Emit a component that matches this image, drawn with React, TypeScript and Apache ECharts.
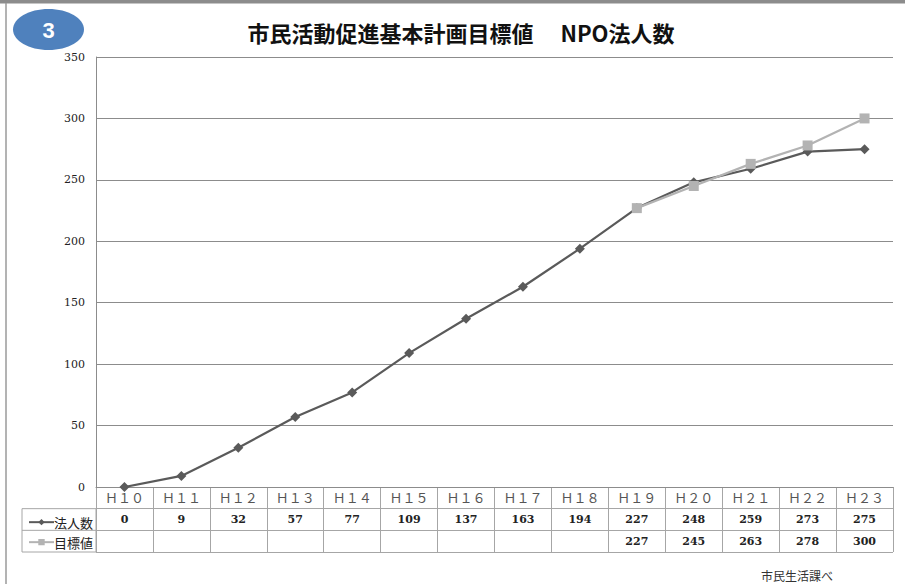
import React, { useEffect, useRef } from "react";
import * as echarts from "echarts";

const categories = ["Ｈ１０", "Ｈ１１", "Ｈ１２", "Ｈ１３", "Ｈ１４", "Ｈ１５", "Ｈ１６", "Ｈ１７", "Ｈ１８", "Ｈ１９", "Ｈ２０", "Ｈ２１", "Ｈ２２", "Ｈ２３"];
const npoCounts = [0, 9, 32, 57, 77, 109, 137, 163, 194, 227, 248, 259, 273, 275];
const targets: (number | null)[] = [null, null, null, null, null, null, null, null, null, 227, 245, 263, 278, 300];
const seriesNames = ["法人数", "目標値"];
const yTicks = { min: 0, max: 350, interval: 50 };
const titleText = "市民活動促進基本計画目標値　 NPO法人数";
const badgeText = "3";
const sourceText = "市民生活課べ";

const DARK = "#5a5a5a";
const LIGHT = "#b3b3b3";
const GRIDC = "#8c8c8c";
const TABLEC = "#a6a6a6";

export default function App() {
  const ref = useRef<HTMLDivElement>(null);
  useEffect(() => {
    document.body.style.margin = "0";
    const chart = echarts.init(ref.current!, null, { renderer: "svg" });
    const tableTop = 487;
    const tableH = 65;
    const rowH = tableH / 3;

    const headerData = categories.map((c, i) => [i, 0.5, c]);
    const countData = npoCounts.map((v, i) => [i, 1.5, v]);
    const targetData = targets
      .map((v, i) => (v == null ? null : [i, 2.5, v]))
      .filter((d) => d !== null);

    const tableLabel = (font: any) => ({
      show: true,
      position: "inside",
      opacity: 1,
      formatter: (p: any) => String(p.value[2]),
      ...font,
    });

    const tableSeries = (data: any[], font: any) => ({
      type: "scatter",
      xAxisIndex: 1,
      yAxisIndex: 1,
      data,
      symbolSize: 1,
      itemStyle: { color: "rgba(0,0,0,0)" },
      silent: true,
      label: tableLabel(font),
    });

    const valueFont = {
      color: "#222",
      fontFamily: "DejaVu Serif",
      fontWeight: "bold",
      fontSize: 11,
    };

    chart.setOption({
      animation: false,
      backgroundColor: "#ffffff",
      grid: [
        { left: 96, right: 12, top: 57, height: 430 },
        { left: 96, right: 12, top: tableTop, height: tableH },
      ],
      xAxis: [
        {
          type: "category",
          gridIndex: 0,
          data: categories,
          boundaryGap: true,
          axisLine: { show: true, lineStyle: { color: GRIDC, width: 1 } },
          axisTick: { show: false },
          axisLabel: { show: false },
          splitLine: { show: false },
        },
        {
          type: "category",
          gridIndex: 1,
          data: categories,
          boundaryGap: true,
          axisLine: { show: false },
          axisTick: { show: false },
          axisLabel: { show: false },
          splitLine: { show: true, interval: 0, lineStyle: { color: TABLEC, width: 1 } },
        },
      ],
      yAxis: [
        {
          type: "value",
          gridIndex: 0,
          min: yTicks.min,
          max: yTicks.max,
          interval: yTicks.interval,
          axisLine: { show: true, lineStyle: { color: GRIDC, width: 1 } },
          axisTick: { show: false },
          axisLabel: {
            margin: 11,
            color: "#222",
            fontFamily: "DejaVu Serif",
            fontSize: 11,
          },
          splitLine: { show: true, lineStyle: { color: GRIDC, width: 1 } },
        },
        {
          type: "value",
          gridIndex: 1,
          min: 0,
          max: 3,
          interval: 1,
          inverse: true,
          axisLine: { show: false },
          axisTick: { show: false },
          axisLabel: { show: false },
          splitLine: { show: true, lineStyle: { color: TABLEC, width: 1 } },
        },
      ],
      legend: {
        data: seriesNames,
        orient: "vertical",
        left: 23,
        top: tableTop + rowH + 2,
        itemWidth: 25,
        itemHeight: 8,
        itemGap: 7,
        selectedMode: false,
        textStyle: {
          fontFamily: "Noto Sans CJK JP",
          fontSize: 13,
          color: "#222",
          padding: [0, 0, 0, -5],
        },
      },
      graphic: [
        { type: "rect", shape: { x: 0, y: 0, width: 905, height: 3.5 }, style: { fill: "#8c8c8c" } },
        { type: "line", shape: { x1: 6, y1: 3, x2: 6, y2: 584 }, style: { stroke: "#9a9a9a", lineWidth: 1.5 } },
        {
          type: "rect",
          shape: { x: 22, y: tableTop + rowH, width: 74, height: rowH * 2 },
          style: { fill: "none", stroke: TABLEC, lineWidth: 1 },
        },
        {
          type: "line",
          shape: { x1: 22, y1: tableTop + rowH * 2, x2: 96, y2: tableTop + rowH * 2 },
          style: { stroke: TABLEC, lineWidth: 1 },
        },
        {
          type: "ellipse",
          shape: { cx: 48.5, cy: 29.5, rx: 35.5, ry: 20.5 },
          style: { fill: "#4f81bd" },
        },
        {
          type: "text",
          x: 48.5,
          y: 30,
          style: {
            text: badgeText,
            fill: "#ffffff",
            font: "bold 22px Arial, 'Liberation Sans', sans-serif",
            align: "center",
            verticalAlign: "middle",
          },
        },
        {
          type: "text",
          x: 461,
          y: 32,
          style: {
            text: titleText,
            fill: "#111",
            font: "bold 22px 'Noto Sans CJK JP', sans-serif",
            align: "center",
            verticalAlign: "middle",
          },
        },
        {
          type: "text",
          x: 797,
          y: 575,
          style: {
            text: sourceText,
            fill: "#333",
            font: "12px 'Noto Sans CJK JP', sans-serif",
            align: "center",
            verticalAlign: "middle",
          },
        },
      ],
      series: [
        {
          name: seriesNames[0],
          type: "line",
          xAxisIndex: 0,
          yAxisIndex: 0,
          data: npoCounts,
          symbol: "diamond",
          symbolSize: 10,
          color: DARK,
          lineStyle: { color: DARK, width: 2.2 },
          itemStyle: { color: DARK },
          z: 3,
        },
        {
          name: seriesNames[1],
          type: "line",
          xAxisIndex: 0,
          yAxisIndex: 0,
          data: targets,
          symbol: "rect",
          symbolSize: 10,
          color: LIGHT,
          lineStyle: { color: LIGHT, width: 2.2 },
          itemStyle: { color: LIGHT },
          z: 4,
        },
        tableSeries(headerData, {
          color: "#555",
          fontFamily: "Noto Sans CJK JP",
          fontSize: 13,
        }),
        tableSeries(countData, valueFont),
        tableSeries(targetData, valueFont),
      ],
    });
    return () => chart.dispose();
  }, []);
  return <div ref={ref} style={{ width: 905, height: 584 }} />;
}
